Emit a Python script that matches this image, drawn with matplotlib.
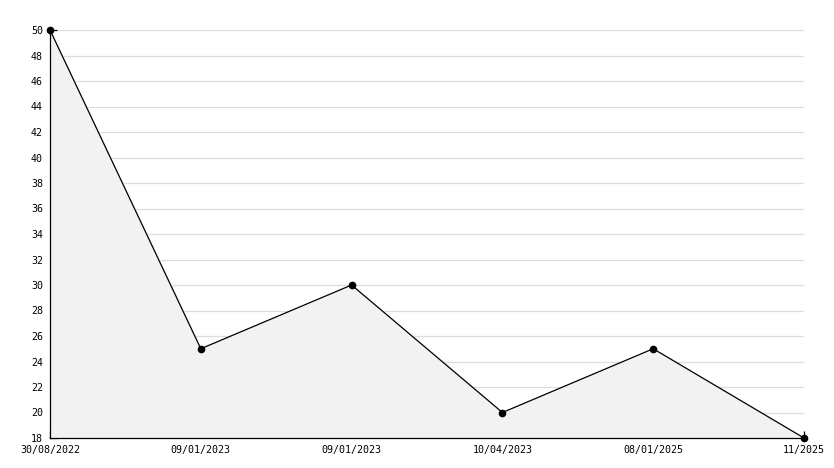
import matplotlib
matplotlib.use("Agg")
import matplotlib.pyplot as plt
from matplotlib.ticker import MultipleLocator

# dati
date_labels = ["30/08/2022", "09/01/2023", "09/01/2023", "10/04/2023", "08/01/2025", "11/2025"]
valori = [50, 25, 30, 20, 25, 18]

plt.rcParams['font.family'] = 'DejaVu Sans Mono'

fig = plt.figure(figsize=(8.34, 4.68), dpi=100)
ax = fig.add_axes([50 / 834, 30 / 468, 754 / 834, 408 / 468])

x = list(range(len(valori)))
ax.fill_between(x, valori, 18, color="#f2f2f2", zorder=1)
ax.plot(x, valori, color="black", linewidth=0.9, marker="o", markersize=4.5, zorder=3)

ax.set_xlim(0, len(valori) - 1)
ax.set_ylim(18, 50)
ax.set_xticks(x)
ax.set_xticklabels(date_labels)
ax.yaxis.set_major_locator(MultipleLocator(2))
ax.yaxis.set_minor_locator(MultipleLocator(1))
ax.grid(axis="y", which="major", color="#dddddd", linewidth=0.9, zorder=0)
ax.set_axisbelow(True)

ax.tick_params(axis="both", which="major", direction="in", length=5, width=0.9,
               labelsize=7.2, pad=5, color="black")
ax.tick_params(axis="y", which="minor", direction="in", length=3.5, width=0.9)
for s in ["top", "right"]:
    ax.spines[s].set_visible(False)
for s in ["left", "bottom"]:
    ax.spines[s].set_linewidth(0.9)
    ax.spines[s].set_zorder(4)

for sp in ax.spines.values():
    sp.set_clip_on(False)
ax.lines[0].set_clip_on(False)

fig.savefig("out.png", dpi=100)
